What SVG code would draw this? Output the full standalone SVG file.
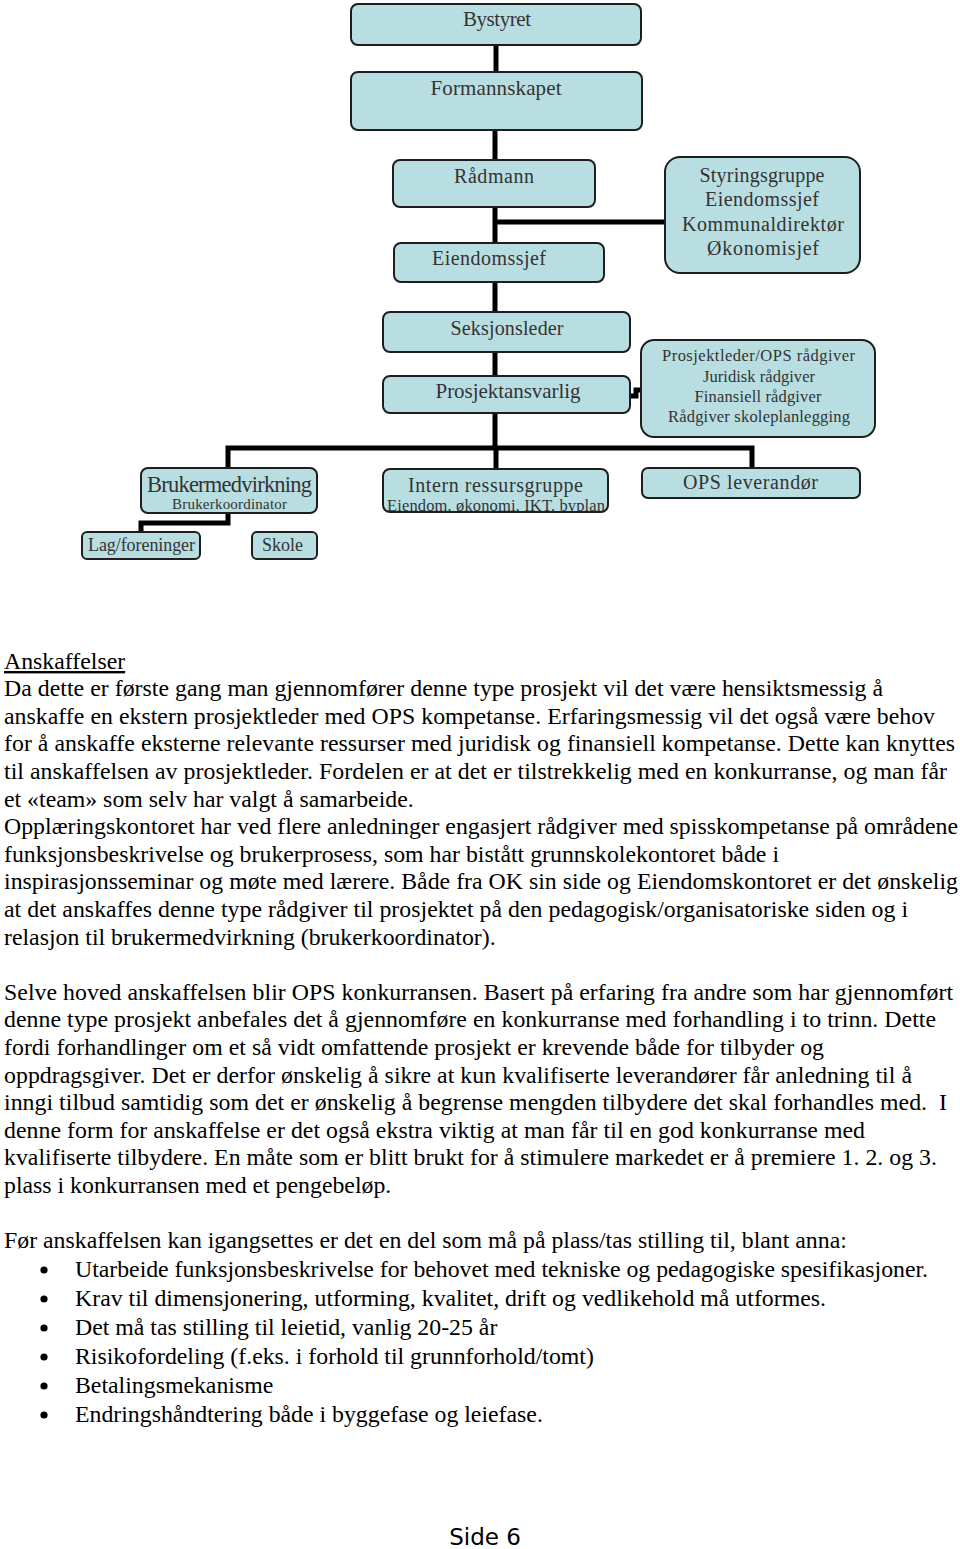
<svg xmlns="http://www.w3.org/2000/svg" width="960" height="1549" viewBox="0 0 960 1549">
<style>
.box{fill:#b9dee2;stroke:#1e1e1e;stroke-width:2}
.lbl{font-family:"Liberation Serif",serif;fill:#333;text-anchor:middle}
.con{fill:none;stroke:#000;stroke-width:5}
.body{font-family:"Liberation Serif",serif;font-size:23.8px;fill:#000}
</style>
<defs>
<clipPath id="clipIntern"><rect x="383" y="469" width="225" height="42"/></clipPath>
</defs>
<rect width="960" height="1549" fill="#fff"/>
<g id="connectors">
<path class="con" d="M496,45 V72"/>
<path class="con" d="M495,130 V160"/>
<path class="con" d="M495,207 V243"/>
<path class="con" d="M495,222 H665"/>
<path class="con" d="M495,282 V312"/>
<path class="con" d="M495,352 V376"/>
<path class="con" d="M495,413 V448"/>
<path class="con" d="M228,468 V448 H752 V468"/>
<path class="con" d="M496,448 V469"/>
<path class="con" d="M630,396 H636 V390 H641" stroke-width="4"/>
<path class="con" d="M228,513 V523 H141 V532"/>
</g>
<g id="bystyret"><rect class="box" x="351" y="4" width="290" height="41" rx="7"/><text class="lbl" x="497" y="26" font-size="21" textLength="68">Bystyret</text></g>
<g id="formannskapet"><rect class="box" x="351" y="72" width="291" height="58" rx="7"/><text class="lbl" x="496" y="95" font-size="21" textLength="131">Formannskapet</text></g>
<g id="radmann"><rect class="box" x="393" y="160" width="202" height="47" rx="7"/><text class="lbl" x="494" y="183" font-size="20" textLength="80">Rådmann</text></g>
<g id="eiendomssjef"><rect class="box" x="394" y="243" width="210" height="39" rx="7"/><text class="lbl" x="489" y="265" font-size="20" textLength="114">Eiendomssjef</text></g>
<g id="styringsgruppe"><rect class="box" x="665" y="157" width="195" height="116" rx="15"/>
<text class="lbl" x="762" y="182" font-size="20" textLength="125">Styringsgruppe</text>
<text class="lbl" x="762" y="206" font-size="20" textLength="114">Eiendomssjef</text>
<text class="lbl" x="763" y="231" font-size="20" textLength="162">Kommunaldirektør</text>
<text class="lbl" x="763" y="255" font-size="20" textLength="112">Økonomisjef</text></g>
<g id="seksjonsleder"><rect class="box" x="383" y="312" width="247" height="40" rx="7"/><text class="lbl" x="507" y="335" font-size="20" textLength="113">Seksjonsleder</text></g>
<g id="prosjektansvarlig"><rect class="box" x="383" y="376" width="247" height="37" rx="7"/><text class="lbl" x="508" y="398" font-size="21" textLength="145">Prosjektansvarlig</text></g>
<g id="prosjektleder"><rect class="box" x="641" y="340" width="234" height="97" rx="13"/>
<text class="lbl" x="758.5" y="361" font-size="16.5" textLength="193">Prosjektleder/OPS rådgiver</text>
<text class="lbl" x="759" y="382" font-size="16.5" textLength="112">Juridisk rådgiver</text>
<text class="lbl" x="758" y="402" font-size="16.5" textLength="127">Finansiell rådgiver</text>
<text class="lbl" x="759" y="422" font-size="16.5" textLength="182">Rådgiver skoleplanlegging</text></g>
<g id="brukermedvirkning"><rect class="box" x="141" y="468" width="176" height="45" rx="7"/>
<text class="lbl" x="229.5" y="492" font-size="22.5" textLength="165">Brukermedvirkning</text>
<text class="lbl" x="229.5" y="509" font-size="15" textLength="115">Brukerkoordinator</text></g>
<g id="intern"><rect class="box" x="383" y="469" width="225" height="43" rx="7"/>
<text class="lbl" x="495.5" y="492" font-size="20" textLength="175">Intern ressursgruppe</text>
<text class="lbl" x="496" y="511" font-size="16.5" textLength="218" clip-path="url(#clipIntern)">Eiendom, økonomi, IKT, byplan</text></g>
<g id="ops"><rect class="box" x="642" y="468" width="218" height="30" rx="6"/><text class="lbl" x="750.5" y="489" font-size="20" textLength="135">OPS leverandør</text></g>
<g id="lag"><rect class="box" x="82" y="532" width="118" height="27" rx="5"/><text class="lbl" x="141.5" y="551" font-size="18" textLength="107">Lag/foreninger</text></g>
<g id="skole"><rect class="box" x="252" y="532" width="65" height="27" rx="5"/><text class="lbl" x="282.5" y="551" font-size="18" textLength="41">Skole</text></g>
<g id="text">
<text class="body" x="4" y="669" text-decoration="underline">Anskaffelser</text>
<text class="body" x="4" y="696" textLength="879">Da dette er første gang man gjennomfører denne type prosjekt vil det være hensiktsmessig å</text>
<text class="body" x="4" y="724" textLength="931">anskaffe en ekstern prosjektleder med OPS kompetanse. Erfaringsmessig vil det også være behov</text>
<text class="body" x="4" y="751" textLength="951">for å anskaffe eksterne relevante ressurser med juridisk og finansiell kompetanse. Dette kan knyttes</text>
<text class="body" x="4" y="779" textLength="943">til anskaffelsen av prosjektleder. Fordelen er at det er tilstrekkelig med en konkurranse, og man får</text>
<text class="body" x="4" y="806.5">et «team» som selv har valgt å samarbeide.</text>
<text class="body" x="4" y="834" textLength="954">Opplæringskontoret har ved flere anledninger engasjert rådgiver med spisskompetanse på områdene</text>
<text class="body" x="4" y="861.5" textLength="775">funksjonsbeskrivelse og brukerprosess, som har bistått grunnskolekontoret både i</text>
<text class="body" x="4" y="889" textLength="954">inspirasjonsseminar og møte med lærere. Både fra OK sin side og Eiendomskontoret er det ønskelig</text>
<text class="body" x="4" y="917" textLength="904">at det anskaffes denne type rådgiver til prosjektet på den pedagogisk/organisatoriske siden og i</text>
<text class="body" x="4" y="944.5">relasjon til brukermedvirkning (brukerkoordinator).</text>
<text class="body" x="4" y="999.5" textLength="949">Selve hoved anskaffelsen blir OPS konkurransen. Basert på erfaring fra andre som har gjennomført</text>
<text class="body" x="4" y="1027" textLength="932">denne type prosjekt anbefales det å gjennomføre en konkurranse med forhandling i to trinn. Dette</text>
<text class="body" x="4" y="1055" textLength="820">fordi forhandlinger om et så vidt omfattende prosjekt er krevende både for tilbyder og</text>
<text class="body" x="4" y="1082.5" textLength="908">oppdragsgiver. Det er derfor ønskelig å sikre at kun kvalifiserte leverandører får anledning til å</text>
<text class="body" x="4" y="1110" xml:space="preserve" textLength="943">inngi tilbud samtidig som det er ønskelig å begrense mengden tilbydere det skal forhandles med.  I</text>
<text class="body" x="4" y="1137.5" textLength="861">denne form for anskaffelse er det også ekstra viktig at man får til en god konkurranse med</text>
<text class="body" x="4" y="1165" textLength="933">kvalifiserte tilbydere. En måte som er blitt brukt for å stimulere markedet er å premiere 1. 2. og 3.</text>
<text class="body" x="4" y="1193">plass i konkurransen med et pengebeløp.</text>
<text class="body" x="4" y="1248">Før anskaffelsen kan igangsettes er det en del som må på plass/tas stilling til, blant anna:</text>
<g fill="#000"><circle cx="44" cy="1270" r="3.6"/><circle cx="44" cy="1299" r="3.6"/><circle cx="44" cy="1328" r="3.6"/><circle cx="44" cy="1357" r="3.6"/><circle cx="44" cy="1386" r="3.6"/><circle cx="44" cy="1415" r="3.6"/></g>
<text class="body" x="75" y="1277" textLength="853">Utarbeide funksjonsbeskrivelse for behovet med tekniske og pedagogiske spesifikasjoner.</text>
<text class="body" x="75" y="1306" textLength="751">Krav til dimensjonering, utforming, kvalitet, drift og vedlikehold må utformes.</text>
<text class="body" x="75" y="1335">Det må tas stilling til leietid, vanlig 20-25 år</text>
<text class="body" x="75" y="1364">Risikofordeling (f.eks. i forhold til grunnforhold/tomt)</text>
<text class="body" x="75" y="1393">Betalingsmekanisme</text>
<text class="body" x="75" y="1422">Endringshåndtering både i byggefase og leiefase.</text>
<text x="485" y="1545" font-family="DejaVu Sans, sans-serif" font-size="23" text-anchor="middle" fill="#000">Side 6</text>
</g>
</svg>
